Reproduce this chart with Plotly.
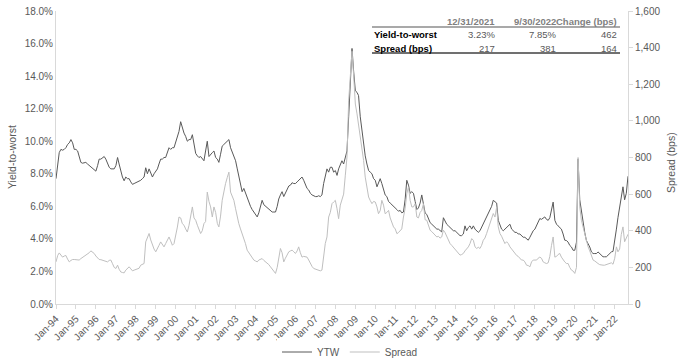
import pandas as pd
import plotly.graph_objects as go

# ---------------- data ----------------
start_month = "1994-01-01"

ytw = [
    7.7, 8.4, 9.3, 9.5, 9.45, 9.5, 9.6, 9.8, 9.9, 10.1, 9.9, 9.5,        # 1994
    9.5, 9.4, 9.0, 8.7, 8.65, 8.7, 8.7, 8.6, 8.5, 8.4, 8.3, 8.2,         # 1995
    8.16, 8.5, 8.9, 8.9, 9.0, 9.06, 8.9, 8.6, 8.4, 8.3, 8.3, 8.3,        # 1996
    8.5, 9.0, 8.6, 8.1, 7.8, 7.57, 7.8, 7.7, 7.7, 7.5, 7.35, 7.4,        # 1997
    7.45, 7.5, 7.5, 7.6, 7.7, 7.8, 8.37, 8.0, 8.3, 8.0, 7.8, 8.0,        # 1998
    8.2, 8.3, 8.6, 8.9, 8.9, 9.0, 9.0, 9.3, 9.6, 9.5, 9.6, 9.6,          # 1999
    9.9, 10.2, 10.6, 11.2, 10.8, 10.5, 10.3, 10.0, 10.1, 10.1, 10.4, 9.8,  # 2000
    9.25, 9.1, 9.0, 9.06, 8.9, 8.8, 9.4, 10.0, 9.06, 9.2, 9.3, 9.4,      # 2001
    9.0, 8.9, 8.7, 9.2, 9.7, 9.8, 9.9, 10.0, 10.1, 9.6, 9.3, 9.0,        # 2002
    8.8, 8.3, 7.8, 7.2, 6.9, 7.1, 6.8, 6.5, 6.2, 6.0, 5.8, 5.65,         # 2003
    5.5, 5.35, 5.6, 6.0, 6.37, 6.1, 6.0, 5.9, 5.8, 5.7, 5.65, 5.65,      # 2004
    5.65, 6.0, 6.45, 6.7, 6.9, 6.6, 6.8, 7.0, 7.25, 7.3, 7.45, 7.4,      # 2005
    7.4, 7.5, 7.6, 7.7, 7.8, 7.6, 7.3, 7.1, 7.0, 6.8, 6.7, 6.65,         # 2006
    6.6, 6.6, 6.65, 6.6, 6.7, 7.4, 7.9, 8.3, 8.1, 8.4, 8.4, 8.1,         # 2007
    8.2, 7.9, 8.3, 8.6, 8.8, 8.6, 9.0, 9.4, 11.5, 14.0, 15.7, 14.3,      # 2008
    13.1, 13.0, 12.8, 11.5, 10.6, 9.9, 9.1, 8.6, 8.2, 8.1, 8.0, 7.7,     # 2009
    7.6, 7.2, 7.5, 7.7, 7.4, 7.0, 6.7, 6.6, 6.3, 6.2, 6.1, 6.0,          # 2010
    5.96, 5.8, 5.7, 5.75, 5.6, 5.65, 6.4, 7.6, 7.3, 6.8, 6.9, 6.8,       # 2011
    6.3, 5.8, 5.9, 6.2, 6.7, 6.0, 5.6, 5.5, 5.2, 5.0, 4.9, 4.8,          # 2012
    4.7, 4.6, 4.6, 4.5, 4.43, 5.3, 5.1, 4.9, 4.8, 4.7, 4.6, 4.5,         # 2013
    4.5, 4.4, 4.3, 4.2, 4.2, 4.3, 4.8, 4.5, 4.7, 4.8, 4.6, 4.8,          # 2014
    4.6, 4.5, 4.4, 4.5, 4.7, 5.0, 5.2, 5.35, 5.6, 5.75, 6.0, 6.37,       # 2015
    6.3, 6.2, 5.14, 4.9, 4.6, 4.5, 4.6, 4.7, 4.8, 4.9, 4.6, 4.5,         # 2016
    4.4, 4.4, 4.3, 4.3, 4.2, 4.1, 4.1, 4.0, 3.92, 4.1, 4.3, 4.5,         # 2017
    4.6, 4.8, 5.0, 5.25, 5.2, 5.3, 5.35, 5.2, 5.14, 5.3, 5.7, 6.26,      # 2018
    5.14, 4.9, 4.8, 4.7, 4.6, 4.3, 3.92, 3.9, 3.8, 3.6, 3.5, 3.3,        # 2019
    3.3, 3.8, 8.9, 6.4, 5.75, 4.9, 4.4, 3.9, 3.7, 3.5, 3.2, 3.1,         # 2020
    3.1, 3.1, 3.2, 3.1, 3.0, 2.9, 2.9, 2.9, 3.0, 3.1, 3.2, 3.23,         # 2021
    3.8, 4.6, 5.3, 6.0, 6.6, 7.2, 6.4, 6.8, 7.85,                        # 2022
]

spread = [
    230, 265, 279, 268, 256, 262, 265, 245, 230, 238, 243, 243,   # 1994
    242, 240, 240, 248, 254, 260, 265, 270, 280, 290, 282, 276,   # 1995
    262, 250, 243, 242, 240, 236, 232, 230, 238, 240, 220, 200,   # 1996
    194, 212, 190, 175, 172, 170, 185, 195, 203, 192, 181, 185,   # 1997
    188, 190, 195, 212, 218, 221, 339, 360, 385, 350, 321, 300,   # 1998
    285, 300, 320, 339, 325, 312, 330, 350, 366, 345, 321, 330,   # 1999
    370, 420, 475, 470, 439, 430, 410, 393, 430, 480, 530, 470,   # 2000
    457, 430, 410, 385, 400, 439, 450, 611, 560, 530, 475, 530,   # 2001
    500, 440, 421, 480, 566, 620, 657, 690, 720, 611, 590, 566,   # 2002
    520, 470, 439, 410, 385, 360, 330, 294, 280, 265, 248, 240,   # 2003
    235, 230, 240, 245, 248, 238, 230, 225, 215, 203, 190, 180,   # 2004
    167, 200, 250, 303, 280, 230, 250, 270, 285, 290, 294, 285,   # 2005
    276, 290, 312, 280, 256, 260, 258, 256, 240, 221, 205, 194,   # 2006
    190, 188, 182, 181, 185, 250, 330, 366, 475, 500, 548, 557,   # 2007
    566, 520, 466, 540, 575, 600, 700, 802, 1110, 1250, 1380, 1250,  # 2008
    1092, 1038, 980, 929, 850, 784, 693, 640, 584, 565, 548, 560,    # 2009
    557, 530, 493, 510, 566, 540, 493, 500, 511, 470, 440, 421,   # 2010
    410, 384, 390, 403, 410, 475, 520, 602, 640, 566, 530, 530,   # 2011
    548, 475, 470, 500, 511, 548, 460, 457, 430, 403, 395, 385,   # 2012
    380, 366, 370, 360, 366, 403, 390, 370, 348, 330, 320, 310,   # 2013
    294, 285, 275, 267, 270, 276, 290, 300, 312, 330, 357, 348,   # 2014
    312, 303, 310, 303, 320, 348, 360, 385, 410, 440, 470, 494,   # 2015
    475, 530, 421, 385, 370, 350, 330, 340, 330, 312, 300, 285,   # 2016
    276, 265, 260, 248, 240, 240, 230, 212, 210, 203, 230, 240,   # 2017
    240, 240, 250, 256, 250, 230, 225, 221, 225, 260, 320, 366,   # 2018
    256, 260, 270, 276, 256, 240, 230, 221, 221, 200, 185, 180,   # 2019
    167, 200, 800, 530, 457, 420, 385, 340, 312, 290, 260, 240,   # 2020
    235, 230, 221, 215, 212, 212, 212, 215, 218, 221, 225, 217,   # 2021
    250, 312, 285, 300, 380, 421, 340, 360, 381,                  # 2022
]

dates = pd.date_range(start_month, periods=len(ytw), freq="MS")

table_header = ["12/31/2021", "9/30/2022", "Change (bps)"]
table_rows = ["Yield-to-worst", "Spread (bps)"]
table_ytw = ["3.23%", "7.85%", "462"]
table_spread = ["217", "381", "164"]

# ---------------- layout helpers ----------------
W, H = 680, 363
L, R, T, B = 56, 52, 11, 59
PW, PH = W - L - R, H - T - B


def px(x):
    return (x - L) / PW


def py(y):
    return (H - B - y) / PH


FONT = "Arial, 'Liberation Sans', sans-serif"
GRAY = "#595959"
AXIS = "#d9d9d9"

fig = go.Figure()
fig.add_trace(go.Scatter(x=dates, y=ytw, name="YTW", mode="lines",
                         line=dict(color="#595959", width=1)))
fig.add_trace(go.Scatter(x=dates, y=spread, name="Spread", mode="lines",
                         yaxis="y2", line=dict(color="#bfbfbf", width=1)))

fig.update_layout(
    template="none",
    width=W, height=H,
    margin=dict(l=L, r=R, t=T, b=B, pad=0, autoexpand=False),
    paper_bgcolor="white", plot_bgcolor="white",
    font=dict(family=FONT, size=10, color=GRAY),
    showlegend=True,
    legend=dict(orientation="h", x=px(350), xanchor="center", y=py(352), yanchor="middle",
                font=dict(size=10, color=GRAY), itemwidth=30, tracegroupgap=0),
    xaxis=dict(
        type="date",
        range=[dates[0], dates[-1]],
        tickformat="%b-%y", dtick="M12", tick0="1994-01-01",
        tickangle=-45, ticks="outside", ticklen=4, tickcolor=AXIS,
        showline=True, linecolor=AXIS, linewidth=1,
        showgrid=False, zeroline=False, automargin=False,
        tickfont=dict(size=10, color=GRAY),
    ),
    yaxis=dict(
        range=[0, 18], dtick=2, tickformat=".1f", ticksuffix="%",
        showline=True, linecolor=AXIS, linewidth=1,
        showgrid=False, zeroline=False, ticks="", automargin=False,
        tickfont=dict(size=10, color=GRAY),
    ),
    yaxis2=dict(
        range=[0, 1600], dtick=200, tickformat=",d",
        overlaying="y", side="right",
        showline=True, linecolor=AXIS, linewidth=1,
        ticks="outside", ticklen=4, tickcolor=AXIS,
        showgrid=False, zeroline=False, automargin=False,
        tickfont=dict(size=10, color=GRAY),
    ),
)

ann = []
# axis titles
ann.append(dict(text="Yield-to-worst", x=px(12), y=py(157), xref="paper", yref="paper",
                textangle=-90, showarrow=False, font=dict(size=10.5, color=GRAY),
                xanchor="center", yanchor="middle"))
ann.append(dict(text="Spread (bps)", x=px(671), y=py(163), xref="paper", yref="paper",
                textangle=-90, showarrow=False, font=dict(size=10.5, color=GRAY),
                xanchor="center", yanchor="middle"))

# table
TFS = 9.5
col_right = [497, 558, 619]
row_y = [21.5, 34.5, 48.5]
for txt, xr in zip(table_header, col_right):
    ann.append(dict(text=f"<b>{txt}</b>", x=px(xr), y=py(row_y[0]), xref="paper", yref="paper",
                    showarrow=False, xanchor="right", yanchor="middle",
                    font=dict(size=TFS, color="#7f7f7f")))
for r, (label, vals) in enumerate(zip(table_rows, [table_ytw, table_spread])):
    yy = row_y[r + 1]
    ann.append(dict(text=f"<b>{label}</b>", x=px(372), y=py(yy), xref="paper", yref="paper",
                    showarrow=False, xanchor="left", yanchor="middle",
                    font=dict(size=TFS, color="#000000")))
    for v, xr in zip(vals, col_right):
        ann.append(dict(text=v, x=px(xr), y=py(yy), xref="paper", yref="paper",
                        showarrow=False, xanchor="right", yanchor="middle",
                        font=dict(size=TFS, color=GRAY)))
fig.update_layout(annotations=ann)

fig.update_layout(shapes=[
    dict(type="line", xref="paper", yref="paper", x0=px(372), x1=px(620),
         y0=py(27), y1=py(27), line=dict(color="#8c8c8c", width=1.5)),
    dict(type="line", xref="paper", yref="paper", x0=px(372), x1=px(620),
         y0=py(53), y1=py(53), line=dict(color="#404040", width=1.5)),
])

fig.write_html("out.html", config={"displayModeBar": False},
               post_script="document.body.style.margin='0';document.body.style.overflow='hidden';")
